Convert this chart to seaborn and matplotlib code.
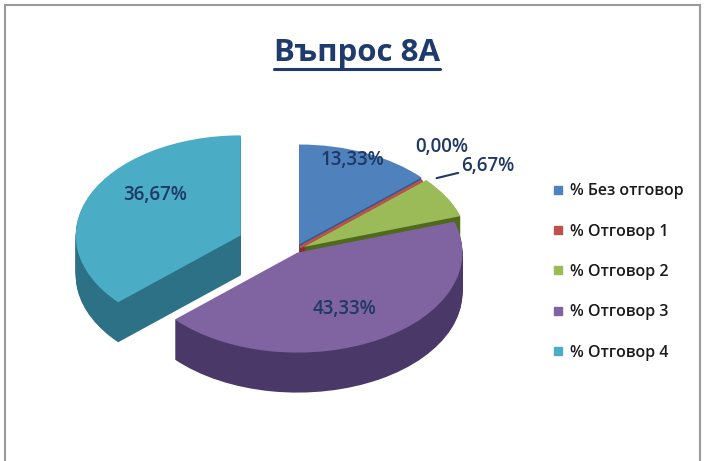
import numpy as np
import matplotlib
matplotlib.use("Agg")
import matplotlib.pyplot as plt
from matplotlib.lines import Line2D
from matplotlib.patches import Rectangle
import seaborn as sns

# Данни
categories = ['% Без отговор', '% Отговор 1', '% Отговор 2', '% Отговор 3', '% Отговор 4']
values = [13.33, 0.00, 6.67, 43.33, 36.67]
value_labels = ['13,33%', '0,00%', '6,67%', '43,33%', '36,67%']

# Цветове (горна страна / странична страна)
top_colors = ['#4F81BD', '#C0504D', '#9BBB59', '#8064A2', '#4BACC6']
side_colors = ['#2F5A8C', '#8A2E2A', '#4F6A1C', '#4A3868', '#2C7186']
explode = [0.06, 0.04, 0.06, 0.03, 0.36]

sns.set_theme(style='white')
plt.rcParams['font.family'] = ['Open Sans', 'DejaVu Sans']

W, H = 706, 461
fig = plt.figure(figsize=(W / 100, H / 100), dpi=100)
fig.patch.set_facecolor('white')
ax = fig.add_axes([0, 0, 1, 1])

# център и радиуси на елипсата (в пиксели)
cx, cy = 295, 250
rx, ry = 165, 100
depth = 0.4

# странична част - много слоеве един над друг
for t in np.linspace(depth, 0.01, 40):
    wedges, _ = ax.pie(values, colors=side_colors, explode=explode, startangle=90,
                       counterclock=False, center=(0, -t), radius=1,
                       wedgeprops=dict(linewidth=0))
    wedges[1].set_edgecolor(side_colors[1])
    wedges[1].set_linewidth(2)

# горна страна
top, _ = ax.pie(values, colors=top_colors, explode=explode, startangle=90,
                counterclock=False, center=(0, 0), radius=1,
                wedgeprops=dict(linewidth=0))
top[1].set_edgecolor(top_colors[1])
top[1].set_linewidth(2)

ax.set_aspect('auto')
ax.set_xlim(-cx / rx, (W - cx) / rx)
ax.set_ylim(-(H - cy) / ry, cy / ry)
ax.axis('off')

# етикети на стойностите (вътре в резените)
label_color = '#1F3864'
inside = {0: (0.9, 3), 3: (0.63, -3), 4: (0.66, -14)}
for i, (f, da) in inside.items():
    w = top[i]
    mid = np.deg2rad((w.theta1 + w.theta2) / 2 + da)
    x = w.center[0] + f * w.r * np.cos(mid)
    y = w.center[1] + f * w.r * np.sin(mid)
    ax.text(x, y, value_labels[i], ha='center', va='center', fontsize=13.5,
            fontweight='semibold', color=label_color)

# 0,00%
w = top[1]
mid = np.deg2rad((w.theta1 + w.theta2) / 2)
ax.annotate(value_labels[1], xy=(w.center[0] + 1.0 * np.cos(mid), w.center[1] + 1.0 * np.sin(mid)),
            xytext=(14, 24), textcoords='offset points', ha='center', va='center',
            fontsize=13.5, fontweight='semibold', color=label_color)

# 6,67% с водеща линия
w = top[2]
mid = np.deg2rad((w.theta1 + w.theta2) / 2 + 10.5)
ax.annotate(value_labels[2], xy=(w.center[0] + 1.06 * np.cos(mid), w.center[1] + 1.06 * np.sin(mid)),
            xytext=(18, 9), textcoords='offset points', ha='left', va='center',
            fontsize=13.5, fontweight='semibold', color=label_color,
            arrowprops=dict(arrowstyle='-', color='#1F3864', lw=1.5, shrinkA=0, shrinkB=0))

# заглавие
title = fig.text(357 / W, 1 - 53 / H, 'Въпрос 8А', ha='center', va='center',
                 fontsize=22.5, fontweight='bold', color='#1F3B6E')
fig.canvas.draw()
bb = title.get_window_extent()
fig.add_artist(Line2D([bb.x0 / W, bb.x1 / W], [(bb.y0 - 1) / H, (bb.y0 - 1) / H],
                      color='#1F3B6E', lw=2.2))

# легенда
handles = [Line2D([], [], marker='s', ls='', color=c, markersize=6) for c in top_colors]
fig.legend(handles, categories, loc='center left', bbox_to_anchor=(544 / W, 1 - 272 / H),
           frameon=False, handlelength=0.8, handletextpad=0.3,
           labelspacing=1.52, borderpad=0, labelcolor='#1a1a1a',
           prop=dict(weight='semibold', size=11.5))

# рамка
fig.add_artist(Rectangle((5 / W, -0.05), 695 / W, 1.05 - 5 / H, transform=fig.transFigure,
                         fill=False, edgecolor='#9a9a9a', lw=1.5))

fig.savefig('out.png', dpi=100)
